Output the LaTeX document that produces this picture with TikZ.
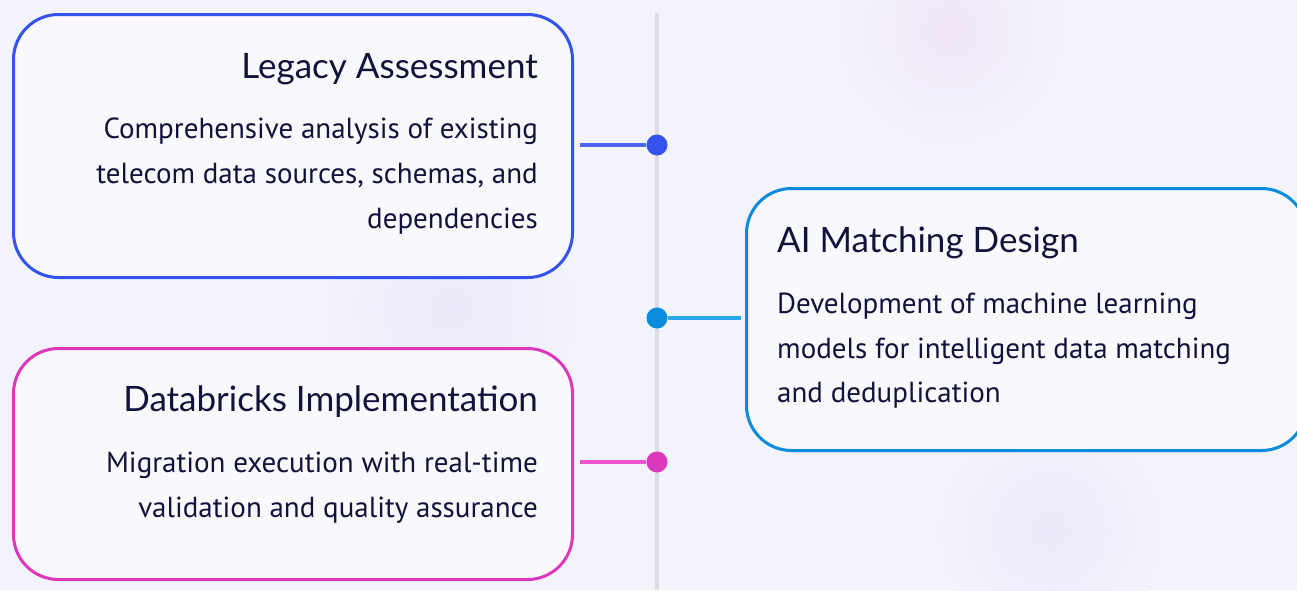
\documentclass[tikz,border=0pt]{standalone}
\usepackage{fontspec}
\setmainfont{PT Sans}
\newfontfamily\titlefont{Lato}
\definecolor{bg}{HTML}{F3F3FB}
\definecolor{ink}{HTML}{12123A}
\definecolor{cblue}{HTML}{3352EE}
\definecolor{cbluel}{HTML}{4A66F0}
\definecolor{ccyan}{HTML}{0A8BDC}
\definecolor{ccyanl}{HTML}{26A8EC}
\definecolor{cmag}{HTML}{DC38BE}
\definecolor{cmagl}{HTML}{EE55CF}
\definecolor{tline}{HTML}{DCDCE6}
\definecolor{blobpink}{HTML}{F1E6F8}
\definecolor{blobblue}{HTML}{EAEAFA}
\begin{document}
\begin{tikzpicture}[x=1pt,y=-1pt,
  card/.style={draw=#1, line width=3pt, rounded corners=45pt, fill=bg!60!white, inner sep=0pt, anchor=north west},
  ttl/.style={font=\titlefont\fontsize{35}{40}\selectfont, text=ink, inner sep=0pt},
  bdy/.style={font=\fontsize{29}{34}\selectfont, text=ink, inner sep=0pt},
  dot/.style={circle, fill=#1, inner sep=0pt, minimum size=21pt},
  conn/.style={draw=#1, line width=3.5pt}]
\clip (0,0) rectangle (1297,590);
\fill[bg] (0,0) rectangle (1297,590);
% faint background blobs
\shade[inner color=blobpink, outer color=bg] (950,30) circle (115);
\shade[inner color=blobblue, outer color=bg] (1050,530) circle (115);
\shade[inner color=blobblue, outer color=bg] (450,310) circle (130);
% timeline
\coordinate (tltop) at (657,13);
\coordinate (tlbot) at (657,590);
\draw[tline, line width=4pt] (tltop) -- (tlbot);
% cards
\node[card=cblue, minimum width=559pt, minimum height=263pt] (c1) at (12,13) {};
\node[card=ccyan, minimum width=560pt, minimum height=262pt] (c2) at (745,187) {};
\node[card=cmag, minimum width=559pt, minimum height=231pt] (c3) at (12,347) {};
% texts card 1
\node[ttl, anchor=base east] (t1) at (538,78) {Legacy Assessment};
\node[bdy, anchor=base east] (b1a) at (538,138) {Comprehensive analysis of existing};
\node[bdy, anchor=base east] (b1b) at (538,183) {telecom data sources, schemas, and};
\node[bdy, anchor=base east] (b1c) at (538,228) {dependencies};
% texts card 2
\node[ttl, anchor=base west] (t2) at (777,252) {AI Matching Design};
\node[bdy, anchor=base west] (b2a) at (777,313) {Development of machine learning};
\node[bdy, anchor=base west] (b2b) at (777,358) {models for intelligent data matching};
\node[bdy, anchor=base west] (b2c) at (777,402) {and deduplication};
% texts card 3
\node[ttl, anchor=base east] (t3) at (538,411) {Databricks Implementation};
\node[bdy, anchor=base east] (b3a) at (538,472) {Migration execution with real-time};
\node[bdy, anchor=base east] (b3b) at (538,517) {validation and quality assurance};
% dots
\node[dot=cblue] (d1) at (657,145) {};
\node[dot=ccyan] (d2) at (657,318) {};
\node[dot=cmag] (d3) at (657,462) {};
% connectors
\draw[conn=cbluel] (c1.east|-d1) ++(6,0) coordinate (e1) (e1) -- (d1.west);
\draw[conn=ccyanl] (d2.east) -- ([xshift=-4pt]c2.west|-d2);
\draw[conn=cmagl] (c3.east|-d3) ++(6,0) coordinate (e3) (e3) -- (d3.west);
\end{tikzpicture}
\end{document}
